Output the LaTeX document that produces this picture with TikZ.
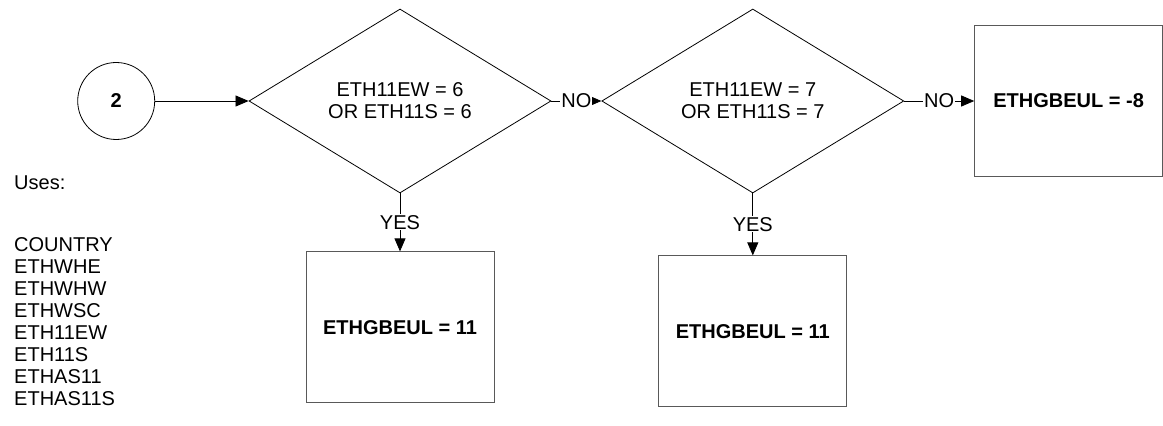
\documentclass[tikz,border=0pt]{standalone}
\usepackage{fontspec}
\setmainfont{Liberation Sans}
\usetikzlibrary{arrows.meta,positioning,shapes.geometric}
\definecolor{ink}{HTML}{000000}
\definecolor{boxline}{HTML}{595959}
\tikzset{
  decbox/.style={diamond,draw=ink,line width=0.8pt,align=center,
    font=\fontsize{20}{22}\selectfont,text=ink,
    minimum width=302pt,minimum height=184pt,inner sep=0pt},
  resbox/.style={rectangle,draw=boxline,line width=0.9pt,
    font=\fontsize{20}{22}\selectfont\bfseries,text=ink,
    minimum width=188pt,minimum height=151pt,inner sep=0pt},
  startcirc/.style={circle,draw=ink,line width=0.8pt,
    font=\fontsize{20}{22}\selectfont\bfseries,minimum size=77pt,inner sep=0pt},
  flowarr/.style={-{Triangle[length=13pt,width=11pt]},line width=0.8pt,color=ink},
  flowlabel/.style={font=\fontsize{20}{22}\selectfont,fill=white,inner sep=1pt,text=ink},
  usesnote/.style={font=\fontsize{20}{22}\selectfont,align=left,inner sep=0pt,text=ink},
}

\begin{document}
\begin{tikzpicture}[x=1pt,y=1pt]
  \useasboundingbox (0,0) rectangle (1163,426);
  \node[decbox] (eq6) at (400,325) {ETH11EW = 6\\OR ETH11S = 6};
  \node[decbox,right=50pt of eq6] (eq7) {ETH11EW = 7\\OR ETH11S = 7};
  \node[startcirc,left=93.5pt of eq6] (conn2) {2};
  \node[resbox,right=70pt of eq7] (setneg8) {ETHGBEUL = -8};
  \node[resbox,below=58pt of eq6] (set11a) {ETHGBEUL = 11};
  \node[resbox,below=62pt of eq7] (set11b) {ETHGBEUL = 11};

  \node[usesnote,anchor=west] (uses) at (14,243) {Uses:};
  \node[usesnote,anchor=north west] (usedvars) at (14,189)
    {COUNTRY\\ETHWHE\\ETHWHW\\ETHWSC\\ETH11EW\\ETH11S\\ETHAS11\\ETHAS11S};

  \draw[flowarr] (conn2) -- (eq6);
  \draw[flowarr] (eq6) -- (eq7) node[midway,flowlabel]{NO};
  \draw[flowarr] (eq7) -- (setneg8) node[midway,flowlabel]{NO};
  \draw[flowarr] (eq6.south) -- (set11a) node[midway,flowlabel]{YES};
  \draw[flowarr] (eq7.south) -- (set11b) node[midway,flowlabel]{YES};
\end{tikzpicture}
\end{document}
